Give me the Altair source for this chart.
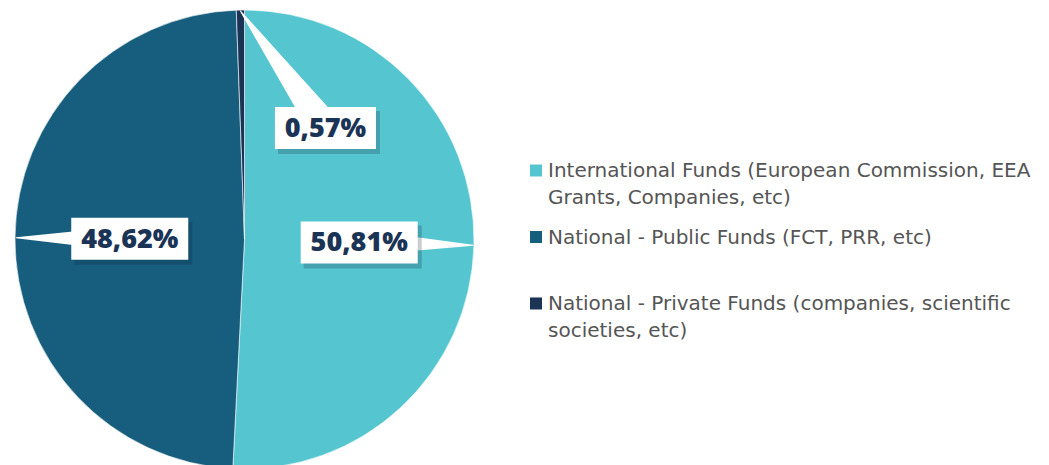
import math
import textwrap
import altair as alt
import pandas as pd

# ---------------- data ----------------
categories = [
    "International Funds (European Commission, EEA Grants, Companies, etc)",
    "National - Public Funds (FCT, PRR, etc)",
    "National - Private Funds (companies, scientific societies, etc)",
]
values = [50.81, 48.62, 0.57]
pct_labels = ["50,81%", "48,62%", "0,57%"]
colors = ["#55C6D0", "#175E7E", "#1B3456"]

# ---------------- layout ----------------
W, H = 473, 463           # plot area
CX, CY = W / 2, H / 2     # arc centre (Vega-Lite default)
R = 229.5
LABEL_R = [0.5, 0.5, 0.6]            # label radius as fraction of R
LABEL_ANGLE = [None, None, 36.0]     # None -> slice mid angle (degrees)
POINTER_W = [26, 26, 32]

# legend labels wrapped into two lines
def wrap2(s):
    lines = textwrap.wrap(s, 47)
    if len(lines) < 2:
        lines.append("")
    return "|".join(lines)

legend_names = [wrap2(c) for c in categories]

pie_df = pd.DataFrame({
    "cat": legend_names,
    "value": values,
    "idx": list(range(len(values))),
})

total = sum(values)
cum = 0.0
lab_rows, ptr_rows = [], []
for i, v in enumerate(values):
    mid = (cum + v / 2) / total * 2 * math.pi
    cum += v
    ang = mid if LABEL_ANGLE[i] is None else math.radians(LABEL_ANGLE[i])
    lx = CX + LABEL_R[i] * R * math.sin(ang)
    ly = CY - LABEL_R[i] * R * math.cos(ang)
    bw = 16 * len(pct_labels[i]) + 21
    bh = 42
    lab_rows.append({
        "label": pct_labels[i], "x": lx, "y": ly,
        "x1": lx - bw / 2, "x2": lx + bw / 2,
        "y1": ly - bh / 2, "y2": ly + bh / 2,
        "sx1": lx - bw / 2 + 3, "sx2": lx + bw / 2 + 4,
        "sy1": ly - bh / 2 + 4, "sy2": ly + bh / 2 + 5,
    })
    tx = CX + (R - 1) * math.sin(mid)
    ty = CY - (R - 1) * math.cos(mid)
    ptr_rows.append({"k": i, "step": 0, "x": tx, "y": ty, "w": 0})
    ptr_rows.append({"k": i, "step": 1, "x": lx, "y": ly, "w": POINTER_W[i]})

lab_df = pd.DataFrame(lab_rows)
ptr_df = pd.DataFrame(ptr_rows)

xs = alt.Scale(domain=[0, W], nice=False, zero=False)
ys = alt.Scale(domain=[0, H], nice=False, zero=False, reverse=True)

pie = alt.Chart(pie_df).mark_arc(outerRadius=R, stroke="#ffffff", strokeWidth=0.6).encode(
    theta=alt.Theta("value:Q", stack=True),
    order=alt.Order("idx:Q", sort="ascending"),
    color=alt.Color(
        "cat:N",
        scale=alt.Scale(domain=legend_names, range=colors),
        sort=None,
        legend=alt.Legend(
            title=None,
            orient="none",
            legendX=518,
            legendY=143,
            direction="vertical",
            symbolType="M-1,0.58H1V2.58H-1Z",
            symbolSize=144,
            symbolStrokeWidth=0,
            labelExpr="split(datum.label, '|')",
            labelFont="DejaVu Sans",
            labelFontSize=20,
            labelColor="#555555",
            labelLimit=700,
            labelBaseline="top",
            labelOffset=2,
            rowPadding=9.5,
            padding=0,
        ),
    ),
)

ptr = alt.Chart(ptr_df).mark_trail(color="#ffffff").encode(
    x=alt.X("x:Q", scale=xs, axis=None),
    y=alt.Y("y:Q", scale=ys, axis=None),
    size=alt.Size("w:Q", scale=None),
    detail="k:N",
    order=alt.Order("step:Q"),
)

shadow = alt.Chart(lab_df).mark_rect(color="#0b2233", opacity=0.22).encode(
    x=alt.X("sx1:Q", scale=xs, axis=None), x2="sx2:Q",
    y=alt.Y("sy1:Q", scale=ys, axis=None), y2="sy2:Q",
)

box = alt.Chart(lab_df).mark_rect(color="#ffffff").encode(
    x=alt.X("x1:Q", scale=xs, axis=None), x2="x2:Q",
    y=alt.Y("y1:Q", scale=ys, axis=None), y2="y2:Q",
)

txt = alt.Chart(lab_df).mark_text(
    font="Open Sans", fontSize=27, fontWeight=800, color="#1B3456",
    align="center", baseline="middle", dy=1,
).encode(
    x=alt.X("x:Q", scale=xs, axis=None),
    y=alt.Y("y:Q", scale=ys, axis=None),
    text="label:N",
)

chart = alt.layer(pie, ptr, shadow, box, txt).properties(
    width=W, height=H, padding=0, background="#ffffff",
).configure(
    style={"guide-label": {"lineHeight": 27}}
).configure_view(stroke=None)

chart.save("out.html", embed_options={"renderer": "svg", "actions": False})
